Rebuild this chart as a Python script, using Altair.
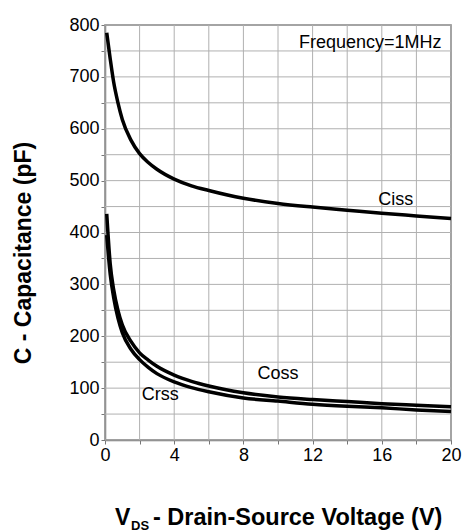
import altair as alt
import pandas as pd

vds = [0.1, 0.3, 0.5, 0.75, 1.0, 1.5, 2, 2.5, 3, 4, 5, 6, 8, 10, 12, 14, 16, 18, 20]
ciss = [785, 735, 690, 650, 618, 578, 552, 535, 522, 503, 490, 481, 466, 456, 449, 443, 437, 432, 427]
coss = [436, 340, 290, 250, 222, 190, 168, 154, 142, 125, 113, 104, 91, 83, 78, 74, 70, 67, 64]
crss = [395, 320, 275, 235, 207, 175, 155, 140, 128, 112, 101, 93, 81, 75, 69, 65, 62, 58, 55]

label_text = ["Ciss", "Coss", "Crss"]
label_x = [16.8, 10.0, 3.2]
label_y = [463, 127, 86]

x_grid = list(range(0, 21, 2))
y_grid = list(range(0, 801, 50))

rows = []
for name, vals in [("Ciss", ciss), ("Coss", coss), ("Crss", crss)]:
    for x, y in zip(vds, vals):
        rows.append({"series": name, "vds": x, "c": y})
df = pd.DataFrame(rows)

W, H = 346, 415
FONT = "Liberation Sans"
GRID = "#b0b0b0"

xscale = alt.Scale(domain=[0, 20], nice=False)
yscale = alt.Scale(domain=[0, 800], nice=False)
xaxis = alt.Axis(values=x_grid, labelExpr="datum.value % 4 == 0 ? datum.label : ''", title=None, grid=False)
yaxis = alt.Axis(values=y_grid, labelExpr="datum.value % 100 == 0 ? datum.label : ''", title=None, grid=False)

vgrid = alt.Chart(pd.DataFrame({"g": x_grid})).mark_rule(color=GRID, strokeWidth=1).encode(
    x=alt.X("g:Q", scale=xscale, axis=xaxis))
hgrid = alt.Chart(pd.DataFrame({"g": y_grid})).mark_rule(color=GRID, strokeWidth=1).encode(
    y=alt.Y("g:Q", scale=yscale, axis=yaxis))

lines = alt.Chart(df).mark_line(color="black", strokeWidth=3.5, interpolate="monotone").encode(
    x=alt.X("vds:Q", scale=xscale, axis=xaxis),
    y=alt.Y("c:Q", scale=yscale, axis=yaxis),
    detail="series:N",
)

lab_df = pd.DataFrame({"t": label_text, "x": label_x, "y": label_y})
labels = alt.Chart(lab_df).mark_text(fontSize=18, font=FONT, color="black", align="center", baseline="middle").encode(
    x=alt.X("x:Q", scale=xscale, axis=xaxis), y=alt.Y("y:Q", scale=yscale, axis=yaxis), text="t:N")

freq = alt.Chart(pd.DataFrame({"t": ["Frequency=1MHz"], "x": [19.45], "y": [765]})).mark_text(
    fontSize=18, font=FONT, color="black", align="right", baseline="middle").encode(
    x=alt.X("x:Q", scale=xscale, axis=xaxis), y=alt.Y("y:Q", scale=yscale, axis=yaxis), text="t:N")

ytitle = alt.Chart(pd.DataFrame({"t": ["C - Capacitance (pF)"]})).mark_text(
    fontSize=23, font=FONT, fontWeight="bold", angle=270, align="center", baseline="middle", color="black").encode(
    x=alt.value(-81), y=alt.value(228), text="t:N")

xt1 = alt.Chart(pd.DataFrame({"t": ["V"]})).mark_text(
    fontSize=23, font=FONT, fontWeight="bold", align="left", baseline="alphabetic", color="black").encode(
    x=alt.value(10), y=alt.value(500), text="t:N")
xt2 = alt.Chart(pd.DataFrame({"t": ["DS"]})).mark_text(
    fontSize=13, font=FONT, fontWeight="bold", align="left", baseline="alphabetic", color="black").encode(
    x=alt.value(26), y=alt.value(505), text="t:N")
xt3 = alt.Chart(pd.DataFrame({"t": ["- Drain-Source Voltage (V)"]})).mark_text(
    fontSize=23.5, font=FONT, fontWeight="bold", align="left", baseline="alphabetic", color="black").encode(
    x=alt.value(48), y=alt.value(500), text="t:N")

chart = alt.layer(vgrid, hgrid, lines, labels, freq, ytitle, xt1, xt2, xt3).properties(
    width=W, height=H,
    autosize=alt.AutoSizeParams(type="none"),
    padding={"left": 97, "top": 17, "right": 11, "bottom": 92},
).configure_view(stroke="#777777", strokeWidth=1.5).configure_axis(
    domainColor="#777777", domainWidth=1.5, labelFlush=False,
    tickColor="#777777", tickSize=4, labelFont=FONT, labelFontSize=18, labelColor="black",
    labelPadding=2,
)

chart.save("out.html", embed_options={"renderer": "svg", "actions": False})
